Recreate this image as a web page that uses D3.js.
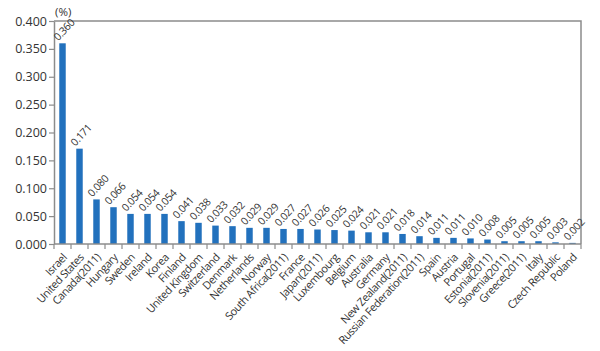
<!DOCTYPE html>
<html>
<head>
<meta charset="utf-8">
<script src="https://cdn.jsdelivr.net/npm/d3@7/dist/d3.min.js"></script>
<style>
  body { margin: 0; background: #fff; }
  svg text { font-family: "Open Sans", "Noto Sans", sans-serif; fill: #333; }
</style>
</head>
<body>
<div id="chart"></div>
<script>
const countries = ['Israel', 'United States', 'Canada(2011)', 'Hungary', 'Sweden', 'Ireland', 'Korea', 'Finland',
  'United Kingdom', 'Switzerland', 'Denmark', 'Netherlands', 'Norway', 'South Africa(2011)', 'France', 'Japan(2011)',
  'Luxembourg', 'Belgium', 'Australia', 'Germany', 'New Zealand(2011)', 'Russian Federation(2011)', 'Spain', 'Austria',
  'Portugal', 'Estonia(2011)', 'Slovenia(2011)', 'Greece(2011)', 'Italy', 'Czech Republic', 'Poland'];
const values = [0.360, 0.171, 0.080, 0.066, 0.054, 0.054, 0.054, 0.041, 0.038, 0.033, 0.032, 0.029, 0.029, 0.027,
  0.027, 0.026, 0.025, 0.024, 0.021, 0.021, 0.018, 0.014, 0.011, 0.011, 0.010, 0.008, 0.005, 0.005, 0.005, 0.003, 0.002];
const yTicks = [0, 0.05, 0.1, 0.15, 0.2, 0.25, 0.3, 0.35, 0.4];

const width = 600, height = 351;
const margin = { top: 21, right: 19, bottom: 107, left: 54 };
const data = countries.map((c, i) => ({ country: c, value: values[i] }));

const svg = d3.select('#chart').append('svg').attr('width', width).attr('height', height);

const x = d3.scaleBand().domain(countries).range([margin.left, width - margin.right]).paddingInner(0.62).paddingOuter(0.31);
const y = d3.scaleLinear().domain([0, 0.4]).range([height - margin.bottom, margin.top]);
const axisColor = '#8c8c8c';

// frame: top and right border
svg.append('path')
  .attr('d', `M${margin.left},${margin.top}H${width - margin.right}V${height - margin.bottom}`)
  .attr('fill', 'none').attr('stroke', axisColor).attr('stroke-width', 1.5);

svg.selectAll('rect.bar')
  .data(data)
  .join('rect')
  .attr('class', 'bar')
  .attr('x', (d) => x(d.country))
  .attr('y', (d) => y(d.value))
  .attr('width', x.bandwidth())
  .attr('height', (d) => y(0) - y(d.value))
  .attr('fill', '#2271bd');

// y axis
const yAxis = svg.append('g').attr('transform', `translate(${margin.left},0)`)
  .call(d3.axisLeft(y).tickValues(yTicks).tickFormat(d3.format('.3f')).tickSize(5).tickSizeOuter(0));
yAxis.select('.domain').attr('stroke', axisColor).attr('stroke-width', 1.5);
yAxis.selectAll('.tick line').attr('stroke', axisColor).attr('stroke-width', 1.2);
yAxis.selectAll('.tick text').attr('font-size', 12.5).attr('x', -7).attr('fill', '#222');

// x axis: ticks at band boundaries
const step = x.step();
const xAxis = svg.append('g').attr('transform', `translate(0,${y(0)})`);
xAxis.append('line').attr('x1', margin.left).attr('x2', width - margin.right)
  .attr('stroke', axisColor).attr('stroke-width', 1.5);
xAxis.selectAll('line.tk')
  .data(d3.range(countries.length + 1))
  .join('line')
  .attr('class', 'tk')
  .attr('x1', (i) => margin.left + i * step)
  .attr('x2', (i) => margin.left + i * step)
  .attr('y1', 0).attr('y2', 5)
  .attr('stroke', axisColor).attr('stroke-width', 1.2);

xAxis.selectAll('text.cat')
  .data(data)
  .join('text')
  .attr('class', 'cat')
  .attr('font-size', 11)
  .attr('letter-spacing', -0.45)
  .attr('text-anchor', 'end')
  .attr('transform', (d) => `translate(${x(d.country) + x.bandwidth() / 2 + 5},${14}) rotate(-47)`)
  .text((d) => d.country);

// value labels
svg.selectAll('text.val')
  .data(data)
  .join('text')
  .attr('class', 'val')
  .attr('font-size', 10.5)
  .attr('letter-spacing', -0.35)
  .attr('transform', (d) => `translate(${x(d.country) - 1},${y(d.value) - 2}) rotate(-47)`)
  .text((d) => d3.format('.3f')(d.value));

svg.append('text').attr('x', margin.left + 1).attr('y', 16).attr('font-size', 11.5).text('(%)');
</script>
</body>
</html>
